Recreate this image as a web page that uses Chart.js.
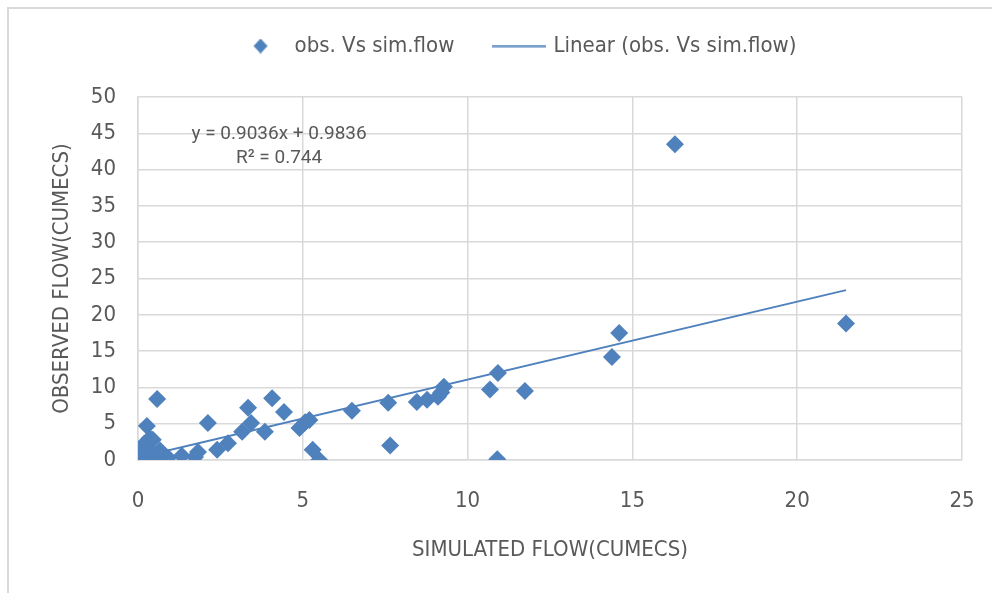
<!DOCTYPE html>
<html>
<head>
<meta charset="utf-8">
<script src="https://cdn.jsdelivr.net/npm/chart.js@4.4.0/dist/chart.umd.min.js"></script>
<style>
  html, body { margin: 0; padding: 0; background: #fff; }
  #wrap { position: relative; width: 992px; height: 593px; overflow: hidden; }
  #frame { position: absolute; left: 7px; top: 7px; width: 1010px; height: 610px; border: 2px solid #d9d9d9; }
  #chart { position: absolute; left: 0; top: 0; }
</style>
</head>
<body>
<div id="wrap">
  <div id="frame"></div>
  <canvas id="chart" width="992" height="593"></canvas>
</div>
<script>
// simulated vs observed flow (cumecs)
const simFlow = [
  0.00, 0.03, 0.05, 0.08, 0.10, 0.12, 0.15, 0.18, 0.20, 0.22,
  0.25, 0.28, 0.30, 0.33, 0.35, 0.40, 0.42, 0.45, 0.50, 0.55,
  0.27, 0.36, 0.45, 0.58, 0.67, 0.91, 1.33, 1.73, 1.82, 2.12,
  2.40, 2.73, 3.16, 3.34, 3.43, 3.85, 4.07, 4.43, 4.90, 5.07,
  5.20, 5.30, 5.50, 6.49, 7.59, 7.65, 8.46, 8.77, 9.10, 9.20,
  9.28, 10.68, 10.92, 10.90, 11.74, 14.38, 14.60, 16.29, 21.48
];
const obsFlow = [
  0.1, 0.4, 0.0, 1.0, 0.2, 1.8, 0.5, 2.2, 0.0, 1.2,
  0.3, 0.8, 0.1, 1.5, 0.2, 0.6, 0.0, 0.3, 0.2, 0.5,
  4.7, 3.0, 2.8, 8.4, 1.3, 0.3, 0.6, 0.4, 1.1, 5.1,
  1.4, 2.3, 3.9, 7.2, 5.1, 3.9, 8.5, 6.6, 4.4, 5.2,
  5.5, 1.4, 0.0, 6.8, 7.9, 2.0, 8.0, 8.3, 8.7, 9.3,
  10.1, 9.7, 12.0, 0.1, 9.5, 14.2, 17.5, 43.5, 18.8
];

// trendline as drawn in the picture (end points)
const trendX = [0.0, 21.48];
const trendY = [0.35, 23.4];
const trendText = ['y = 0.9036x + 0.9836', 'R\u00b2 = 0.744'];
const trendTextAt = { x: 4.28, y: 44.9 };

const xTicks = [0, 5, 10, 15, 20, 25];
const yTicks = [0, 5, 10, 15, 20, 25, 30, 35, 40, 45, 50];

const BLUE = '#4f81bd';
const GREY_TEXT = '#595959';
const GRID = '#d9d9d9';
const FONT = "'Liberation Sans Narrow', 'DejaVu Sans Condensed', 'Arial Narrow', sans-serif";

const scatterData = simFlow.map((x, i) => ({ x: x, y: obsFlow[i] }));
const trendData = trendX.map((x, i) => ({ x: x, y: trendY[i] }));

// legend icons
const diamondIcon = document.createElement('canvas');
diamondIcon.width = 16;
diamondIcon.height = 15;
(function () {
  const c = diamondIcon.getContext('2d');
  c.fillStyle = BLUE;
  c.beginPath();
  c.moveTo(8, 0); c.lineTo(15, 7.5); c.lineTo(8, 15); c.lineTo(1, 7.5);
  c.closePath();
  c.fill();
})();
const lineIcon = document.createElement('canvas');
lineIcon.width = 54;
lineIcon.height = 3;
(function () {
  const c = lineIcon.getContext('2d');
  c.fillStyle = BLUE;
  c.fillRect(0, 0.5, 54, 2);
})();
const legendIcons = [diamondIcon, lineIcon];

// legend: keep the plot top at the picture's spot and nudge the row
const legendTweak = {
  id: 'legendTweak',
  beforeInit(chart) {
    const fit = chart.legend.fit;
    chart.legend.fit = function () {
      fit.call(this);
      this.height = 97;
    };
  },
  afterLayout(chart) {
    const lg = chart.legend;
    lg.left += 32;
    lg.right += 32;
    lg.top -= 7;
  }
};

const equationLabel = {
  id: 'equationLabel',
  afterDatasetsDraw(chart) {
    const ctx = chart.ctx;
    const px = chart.scales.x.getPixelForValue(trendTextAt.x);
    const py = chart.scales.y.getPixelForValue(trendTextAt.y);
    ctx.save();
    ctx.font = "19px Roboto, 'Open Sans', sans-serif";
    ctx.fillStyle = GREY_TEXT;
    ctx.textAlign = 'center';
    ctx.textBaseline = 'middle';
    ctx.fillText(trendText[0], px, py);
    ctx.fillText(trendText[1], px, py + 24);
    ctx.restore();
  }
};

new Chart(document.getElementById('chart'), {
  type: 'scatter',
  data: {
    datasets: [
      {
        label: 'obs. Vs sim.flow',
        data: scatterData,
        pointStyle: 'rectRot',
        pointRadius: 9,
        pointHoverRadius: 9,
        backgroundColor: BLUE,
        borderColor: BLUE,
        borderWidth: 0
      },
      {
        type: 'line',
        label: 'Linear (obs. Vs sim.flow)',
        data: trendData,
        borderColor: BLUE,
        backgroundColor: BLUE,
        borderWidth: 2,
        pointRadius: 0,
        fill: false
      }
    ]
  },
  options: {
    responsive: false,
    animation: false,
    layout: { padding: { left: 8, right: 30, top: 0, bottom: 0 } },
    plugins: {
      tooltip: { enabled: false },
      legend: {
        position: 'top',
        labels: {
          usePointStyle: true,
          pointStyleWidth: 46,
          padding: 42,
          color: GREY_TEXT,
          font: { family: FONT, size: 22 },
          generateLabels(chart) {
            const items = Chart.defaults.plugins.legend.labels.generateLabels(chart);
            items.forEach((it, i) => { it.pointStyle = legendIcons[i]; });
            return items;
          }
        }
      }
    },
    scales: {
      x: {
        type: 'linear',
        min: 0,
        max: 25,
        afterBuildTicks(scale) { scale.ticks = xTicks.map(v => ({ value: v })); },
        afterFit(scale) {
          scale.height = 133;
          scale.paddingLeft = 0;
          scale.paddingRight = 0;
        },
        grid: { color: GRID, lineWidth: 1.5, drawTicks: false },
        border: { color: GRID, width: 1.5 },
        ticks: { color: GREY_TEXT, font: { family: FONT, size: 22 }, padding: 28 },
        title: {
          display: true,
          text: 'SIMULATED FLOW(CUMECS)',
          color: GREY_TEXT,
          font: { family: FONT, size: 22 },
          padding: { top: 0, bottom: 30 }
        }
      },
      y: {
        type: 'linear',
        min: 0,
        max: 50,
        afterBuildTicks(scale) { scale.ticks = yTicks.map(v => ({ value: v })); },
        afterFit(scale) { scale.width = 130; },
        grid: { color: GRID, lineWidth: 1.5, drawTicks: false },
        border: { color: GRID, width: 1.5 },
        ticks: { color: GREY_TEXT, font: { family: FONT, size: 22 }, padding: 22 },
        title: {
          display: true,
          text: 'OBSERVED FLOW(CUMECS)',
          color: GREY_TEXT,
          font: { family: FONT, size: 22 },
          padding: { top: 41, bottom: 0 }
        }
      }
    }
  },
  plugins: [legendTweak, equationLabel]
});
</script>
</body>
</html>
